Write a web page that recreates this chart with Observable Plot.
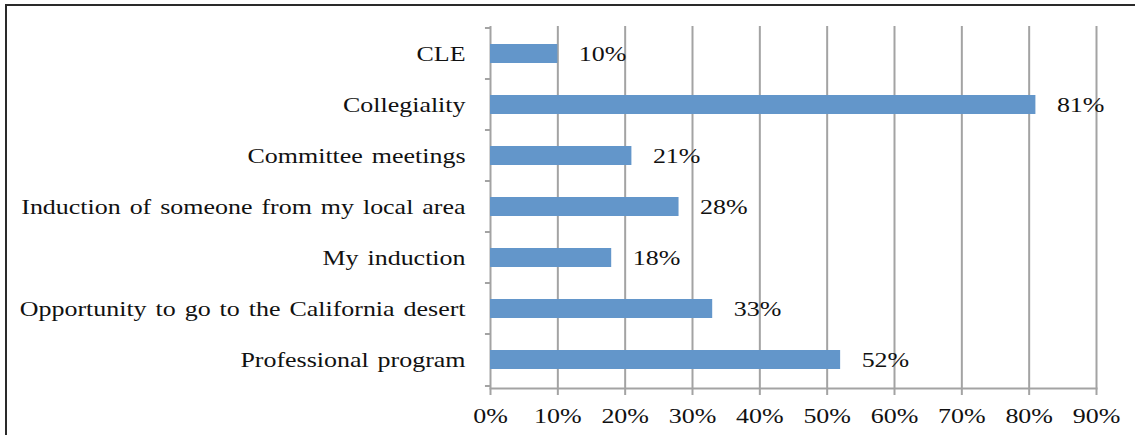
<!DOCTYPE html>
<html>
<head>
<meta charset="utf-8">
<script src="https://cdn.jsdelivr.net/npm/d3@7"></script>
<script src="https://cdn.jsdelivr.net/npm/@observablehq/plot@0.6"></script>
<style>
  html, body { margin: 0; padding: 0; background: #fff; overflow: hidden; }
  #wrap { position: relative; width: 1135px; height: 435px; }
  #border { position: absolute; left: 5px; top: 4px; width: 1140px; height: 450px; border: 2px solid #2a2a2a; box-sizing: border-box; }
  #chart { position: absolute; left: 0; top: 0; }
  #chart svg text { word-spacing: 2.1px; }
</style>
</head>
<body>
<div id="wrap"><div id="border"></div><div id="chart"></div></div>
<script>
const categories = [
  "CLE",
  "Collegiality",
  "Committee meetings",
  "Induction of someone from my local area",
  "My induction",
  "Opportunity to go to the California desert",
  "Professional program"
];
const values = [0.10, 0.81, 0.21, 0.28, 0.18, 0.33, 0.52];
const xTicks = [0, 0.1, 0.2, 0.3, 0.4, 0.5, 0.6, 0.7, 0.8, 0.9];

const data = categories.map((c, i) => ({category: c, value: values[i]}));
const fmt = d3.format(".0%");
const font = "'Liberation Serif', 'Times New Roman', serif";
const gray = "#a3a3a3";
const last = categories[categories.length - 1];

const plot = Plot.plot({
  width: 1135,
  height: 435,
  marginLeft: 490,
  marginRight: 39,
  marginTop: 26,
  marginBottom: 47,
  style: {fontFamily: font, fontSize: "22px", color: "#111", background: "transparent", overflow: "visible"},
  x: {domain: [0, 0.9], ticks: xTicks, tickFormat: fmt, label: null},
  y: {domain: categories, paddingInner: 0.62, paddingOuter: 0.31, label: null},
  marks: [
    Plot.ruleX(xTicks, {stroke: gray, strokeWidth: 2, strokeOpacity: 1}),
    Plot.frame({anchor: "bottom", stroke: gray, strokeWidth: 2}),
    Plot.ruleY(categories, {y: d => d, x1: 0, x2: -0.0075, dy: -26, stroke: gray, strokeWidth: 2}),
    Plot.ruleY([last], {y: d => d, x1: 0, x2: -0.0075, dy: 26, stroke: gray, strokeWidth: 2}),
    Plot.barX(data, {x: "value", y: "category", fill: "#6396ca"}),
    Plot.text(data, {x: "value", y: "category", text: d => fmt(d.value), dx: 21, textAnchor: "start", fontSize: 22, fill: "#111"}),
    Plot.axisX({ticks: xTicks, tickFormat: fmt, tickSize: 7, tickPadding: 12, stroke: gray, strokeWidth: 2, fontSize: 22, label: null}),
    Plot.axisY({tickSize: 0, tickPadding: 25, fontSize: 22, label: null})
  ]
});
// the reference's lettering is horizontally stretched: widen each text about its anchor
d3.select(plot).selectAll("text").each(function() {
  const t = this.getAttribute("transform");
  if (t) this.setAttribute("transform", t + " scale(1.18,1)");
});
document.getElementById("chart").appendChild(plot);
</script>
</body>
</html>
